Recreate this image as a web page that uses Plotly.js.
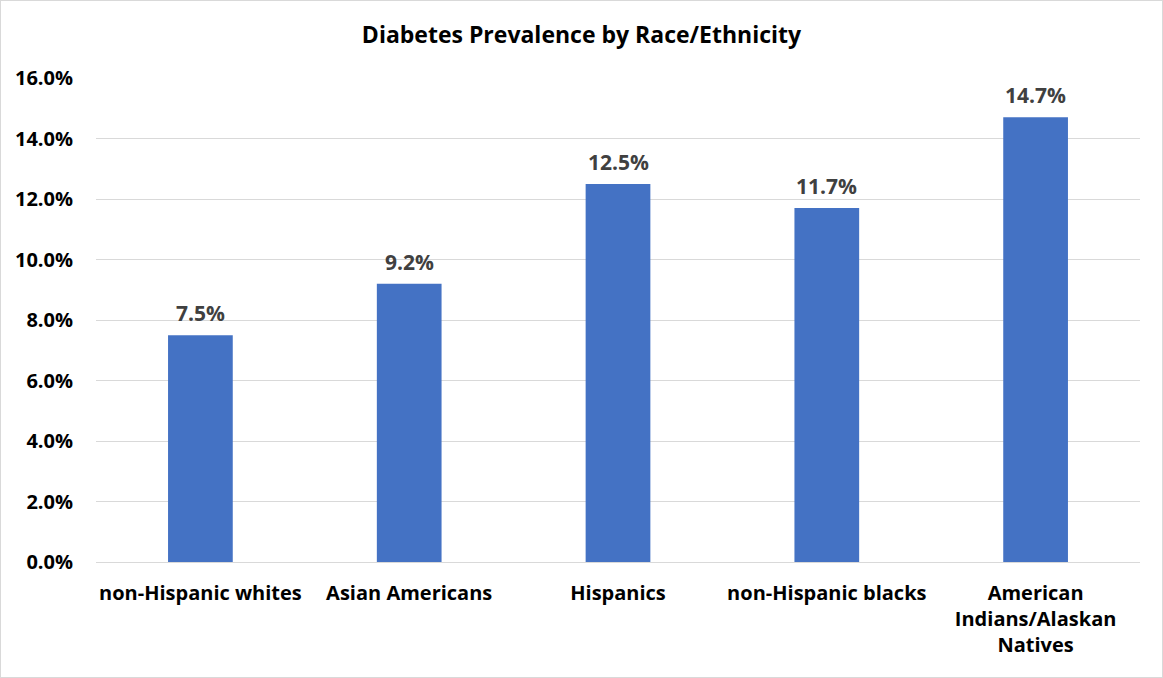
<!DOCTYPE html>
<html>
<head>
<meta charset="utf-8">
<script src="https://cdn.plot.ly/plotly-3.0.1.min.js"></script>
<style>
html,body{margin:0;padding:0;background:#fff;}
#wrap{width:1163px;height:678px;box-sizing:border-box;border:1px solid #d9d9d9;}
#chart{width:1161px;height:676px;}
</style>
</head>
<body>
<div id="wrap"><div id="chart"></div></div>
<script>
const categories = ["non-Hispanic whites", "Asian Americans", "Hispanics", "non-Hispanic blacks", "American<br>Indians/Alaskan<br>Natives"];
const prevalence = [7.5, 9.2, 12.5, 11.7, 14.7];
const tickValues = [0, 2, 4, 6, 8, 10, 12, 14, 16];

const FONT = "'Open Sans', sans-serif";

const labels = categories.map((c, i) => ({
  x: c, y: prevalence[i], xref: "x", yref: "y",
  text: "<b>" + prevalence[i].toFixed(1) + "%</b>",
  showarrow: false, yanchor: "bottom", yshift: 6,
  font: {family: FONT, size: 21, color: "#404040"}
}));

Plotly.newPlot("chart", [{
  type: "bar",
  x: categories,
  y: prevalence,
  marker: {color: "#4472C4"},
  hoverinfo: "none"
}], {
  width: 1161, height: 676,
  margin: {l: 95, r: 22, t: 77, b: 115},
  paper_bgcolor: "#fff", plot_bgcolor: "#fff",
  bargap: 0.69,
  showlegend: false,
  annotations: labels,
  title: {text: "<b>Diabetes Prevalence by Race/Ethnicity</b>", x: 0.5, xanchor: "center", y: 0.95, yanchor: "middle",
          font: {family: FONT, size: 23, color: "#000"}},
  xaxis: {tickfont: {family: FONT, size: 20, color: "#000"}, showline: true, linecolor: "#d9d9d9", linewidth: 1,
          ticks: "", ticklabelstandoff: 13, tickprefix: "<b>", ticksuffix: "</b>", fixedrange: true},
  yaxis: {range: [0, 16], tickvals: tickValues, ticktext: tickValues.map(v => "<b>" + v.toFixed(1) + "%</b>"),
          gridcolor: "#d9d9d9", gridwidth: 1, zeroline: false, showline: false, ticks: "", ticklabelstandoff: 22,
          tickfont: {family: FONT, size: 20, color: "#000"}, fixedrange: true}
}, {displayModeBar: false, staticPlot: true});
</script>
</body>
</html>
